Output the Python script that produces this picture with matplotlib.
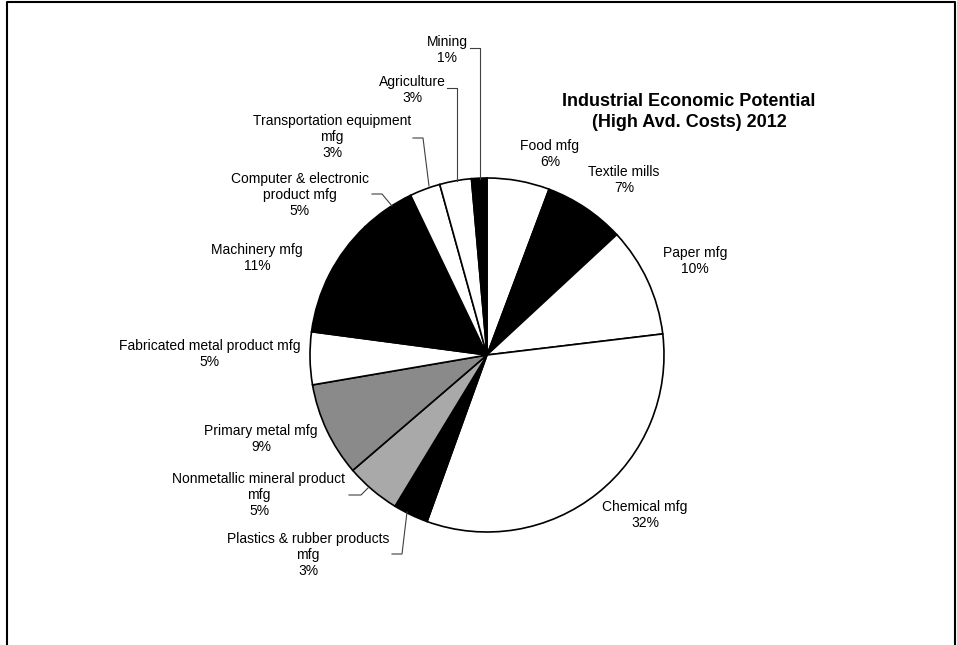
import matplotlib.pyplot as plt
from matplotlib.lines import Line2D

plt.rcParams["font.family"] = ["Liberation Sans", "DejaVu Sans"]

W, H = 957, 645

sectors = ["Food mfg", "Textile mills", "Paper mfg", "Chemical mfg",
           "Plastics & rubber products\nmfg", "Nonmetallic mineral product\nmfg",
           "Primary metal mfg", "Fabricated metal product mfg", "Machinery mfg",
           "Computer & electronic\nproduct mfg", "Transportation equipment\nmfg",
           "Agriculture", "Mining"]
shares = [5.7, 7.4, 10.0, 32.4, 3.2, 5.0, 8.6, 4.8, 10.8, 5.0, 2.8, 2.9, 1.4]

fills = ["white", "black", "white", "white", "black", "#a9a9a9", "#8a8a8a",
         "white", "black", "black", "white", "white", "black"]

# label centres and leader lines, in pixels from the top-left corner
label_pos = [(550, 154), (624, 180), (695, 261), (645, 515), (308, 555),
             (259, 495), (261, 439), (210, 354), (257, 258), (300, 195),
             (332, 137), (412, 90), (447, 50)]
leaders = {
    12: [(470, 48), (480, 48), (480, 179)],
    11: [(447, 88), (457, 88), (457, 181)],
    10: [(413, 138), (423, 138), (429, 186)],
    9: [(372, 194), (382, 194), (392, 206)],
    5: [(349, 495), (361, 495), (368, 488)],
    4: [(392, 554), (402, 554), (407, 512)],
}

fig = plt.figure(figsize=(W / 100, H / 100), dpi=100)
ax = fig.add_axes([0, 0, 1, 1])

ax.pie(shares, colors=fills, startangle=90, counterclock=False,
       center=(487, H - 355), radius=177, frame=True,
       wedgeprops={"edgecolor": "black", "linewidth": 1.2})
ax.set_xlim(0, W)
ax.set_ylim(0, H)
ax.axis("off")

for i, name in enumerate(sectors):
    x, y = label_pos[i]
    ax.text(x, H - y, f"{name}\n{round(shares[i])}%", ha="center", va="center",
            multialignment="center", fontsize=10, linespacing=1.15)

for pts in leaders.values():
    ax.plot([p[0] for p in pts], [H - p[1] for p in pts], color="#404040",
            linewidth=0.8)

ax.text(689, H - 112, "Industrial Economic Potential\n(High Avd. Costs) 2012",
        ha="center", va="center", fontsize=13, fontweight="bold",
        linespacing=1.25)

# outer frame of the chart area
fig.add_artist(Line2D([7 / W, 7 / W, 955 / W, 955 / W],
                      [0, 1 - 2 / H, 1 - 2 / H, 0],
                      transform=fig.transFigure, color="black", linewidth=1.5))

fig.savefig("out.png", dpi=100)
